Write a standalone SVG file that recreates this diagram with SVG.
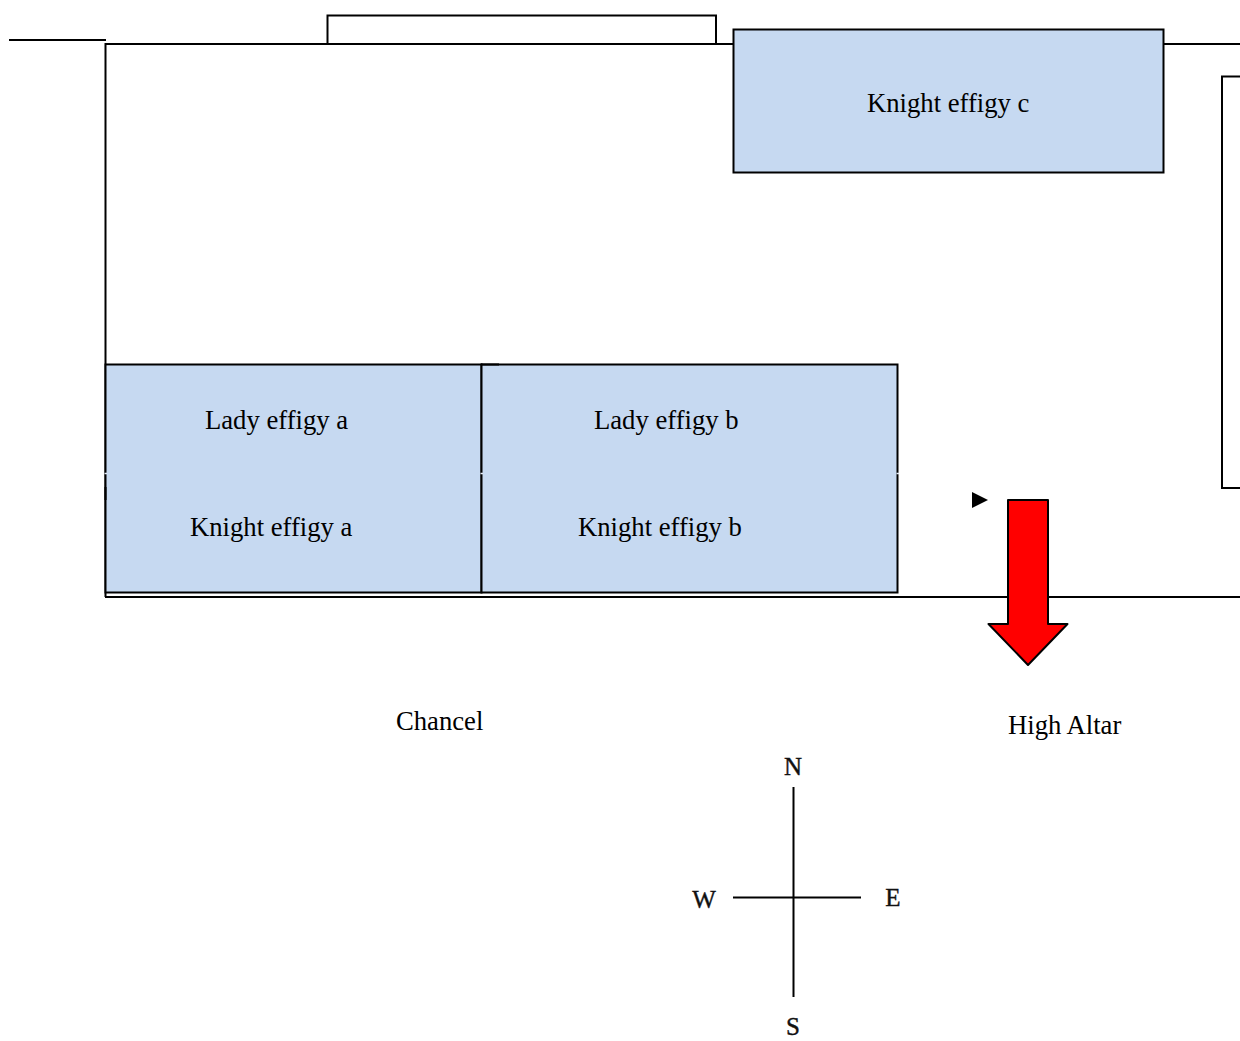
<svg xmlns="http://www.w3.org/2000/svg" width="1240" height="1041" viewBox="0 0 1240 1041">
<style>
.l{fill:none;stroke:#000;stroke-width:2}
.t{font-family:"Liberation Serif","Times New Roman",serif;font-size:26.67px;fill:#000}
.box{fill:#c6d9f1;stroke:#000;stroke-width:2}
.c{font-family:"Liberation Serif","Times New Roman",serif;font-size:25px;fill:#111;stroke:#111;stroke-width:.4}
.tick{fill:none;stroke:#e4ecf7;stroke-width:1.500}
</style>
<rect width="1240" height="1041" fill="#fff"/>
<g id="walls">
<path class="l" d="M9 40H106M105.500 597V44H733M1164 44H1240M105 597H1240"/>
<path class="l" d="M327.500 44V15.500H716V44"/>
<path class="l" d="M1240 76.500H1222V488H1240"/>
</g>
<g id="knight-effigy-c">
<rect class="box" x="733.500" y="29.500" width="430" height="143"/>
<text class="t" x="867" y="111.600">Knight effigy c</text>
</g>
<g id="effigies-a">
<rect class="box" x="105.500" y="364.500" width="376" height="228"/>
<text class="t" x="205" y="428.600">Lady effigy a</text>
<text class="t" x="190" y="535.600">Knight effigy a</text>
</g>
<g id="effigies-b">
<rect class="box" x="481.500" y="364.500" width="416" height="228"/>
<path class="l" d="M481 364.500H499"/>
<text class="t" x="594" y="428.600">Lady effigy b</text>
<text class="t" x="578" y="535.600">Knight effigy b</text>
</g>
<g id="seams">
<path class="tick" d="M104.500 473.500H107M480.500 473.500H483M896.500 473.500H899"/>
<path class="l" d="M105.500 487V500"/>
</g>
<g id="connectors">
<path d="M972 492L988 500L972 508Z" fill="#000"/>
<path d="M1008 500H1048V624H1067.500L1028 665L988.500 624H1008Z" fill="#f00" stroke="#000" stroke-width="2" stroke-linejoin="round"/>
</g>
<g id="labels">
<text class="t" x="396" y="729.600">Chancel</text>
<text class="t" x="1008" y="733.600">High Altar</text>
</g>
<g id="compass">
<path class="l" d="M793.500 787V997M733 897.500H861"/>
<text class="c" x="793" y="775" text-anchor="middle">N</text>
<text class="c" x="704" y="908" text-anchor="middle">W</text>
<text class="c" x="893" y="906" text-anchor="middle">E</text>
<text class="c" x="793" y="1035" text-anchor="middle">S</text>
</g>
</svg>
